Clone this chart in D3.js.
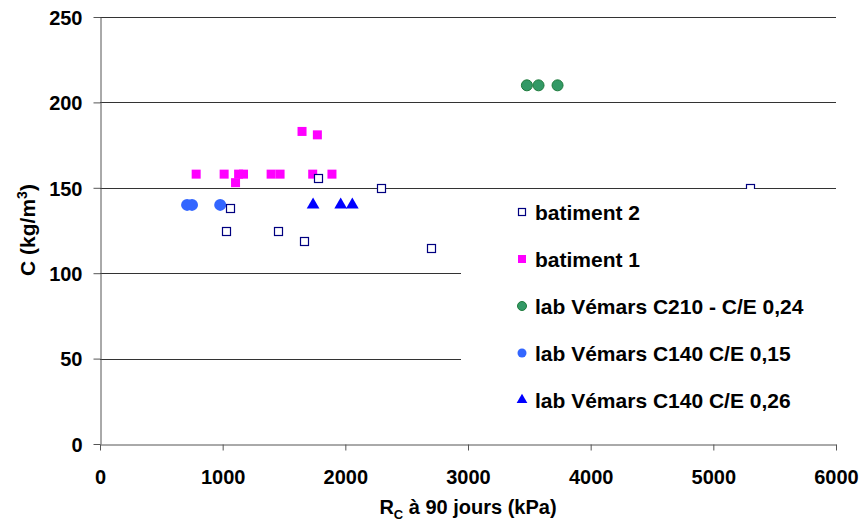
<!DOCTYPE html>
<html>
<head>
<meta charset="utf-8">
<script src="https://cdn.jsdelivr.net/npm/d3@7"></script>
<style>
  body { margin: 0; background: #fff; }
  svg text { font-family: 'Liberation Sans', Arial, sans-serif; font-weight: bold; }
</style>
</head>
<body>
<svg id="chart" width="860" height="522"></svg>
<script>
// values
const batiment2 = [[1775, 156], [2290, 150], [1056, 138], [1026, 125], [1455, 125], [1661, 119], [2700, 115], [5300, 150]]
const batiment1 = [[784, 158], [1012, 158], [1105, 153], [1130, 158], [1170, 158], [1395, 158], [1468, 158], [1647, 183], [1772, 181], [1734, 158], [1891, 158]]
const vemarsC210 = [[3480, 210], [3575, 210], [3730, 210]]
const vemarsC140a = [[710, 140], [750, 140], [980, 140]]
const vemarsC140b = [[1737, 140], [1962, 140], [2057, 140]]

const xTicks = [0, 1000, 2000, 3000, 4000, 5000, 6000]
const yTicks = [0, 50, 100, 150, 200, 250]
const legendLabels = ['batiment 2', 'batiment 1', 'lab Vémars C210 - C/E 0,24', 'lab Vémars C140 C/E 0,15', 'lab Vémars C140 C/E 0,26']

const svg = d3.select('#chart')
const x = d3.scaleLinear().domain([0, 6000]).range([100, 836])
const y = d3.scaleLinear().domain([0, 250]).range([444, 17])

// gridlines
svg.append('g').selectAll('line')
  .data(yTicks.filter(d => d > 0))
  .join('line')
  .attr('x1', 100).attr('x2', 836)
  .attr('y1', d => Math.round(y(d)) + 0.5).attr('y2', d => Math.round(y(d)) + 0.5)
  .attr('stroke', '#333').attr('stroke-width', 1)

// axes
const xAxis = svg.append('g')
  .attr('transform', 'translate(0,444.5)')
  .call(d3.axisBottom(x).tickValues(xTicks).tickFormat(d3.format('d')).tickSize(6).tickPadding(19).tickSizeOuter(0))
const yAxis = svg.append('g')
  .attr('transform', 'translate(100.5,0)')
  .call(d3.axisLeft(y).tickValues(yTicks).tickSize(7).tickPadding(11).tickSizeOuter(0))
for (const g of [xAxis, yAxis]) {
  g.select('.domain').attr('stroke', '#555')
  g.selectAll('.tick line').attr('stroke', '#555')
  g.selectAll('.tick text').attr('fill', '#000').style('font-size', '20px').style('font-family', null)
}
yAxis.selectAll('.tick text').attr('dy', '0.36em')
xAxis.selectAll('.tick text').attr('dy', '0.71em')

// axis titles
const xt = svg.append('text')
  .attr('x', 468).attr('y', 514)
  .attr('text-anchor', 'middle')
  .style('font-size', '20px')
xt.append('tspan').text('R')
xt.append('tspan').attr('dy', 5).style('font-size', '13px').text('C')
xt.append('tspan').attr('dy', -5).text(' à 90 jours (kPa)')

const yt = svg.append('text')
  .attr('transform', 'translate(35,230) rotate(-90)')
  .attr('text-anchor', 'middle')
  .style('font-size', '21px')
yt.append('tspan').text('C (kg/m')
yt.append('tspan').attr('dy', -8).style('font-size', '14px').text('3')
yt.append('tspan').attr('dy', 8).text(')')

// series
const tri = d3.symbol().type(d3.symbolTriangle).size(70)

svg.append('g').selectAll('rect')
  .data(batiment1)
  .join('rect')
  .attr('x', d => x(d[0]) - 4.5).attr('y', d => y(d[1]) - 4.5)
  .attr('width', 9).attr('height', 9)
  .attr('fill', '#ff00ff')

svg.append('g').selectAll('circle')
  .data(vemarsC210)
  .join('circle')
  .attr('cx', d => x(d[0])).attr('cy', d => y(d[1]))
  .attr('r', 5.5)
  .attr('fill', '#339966').attr('stroke', '#1e7b3c').attr('stroke-width', 1)

svg.append('g').selectAll('circle')
  .data(vemarsC140a)
  .join('circle')
  .attr('cx', d => x(d[0])).attr('cy', d => y(d[1]))
  .attr('r', 6)
  .attr('fill', '#3366ff')

svg.append('g').selectAll('path')
  .data(vemarsC140b)
  .join('path')
  .attr('d', tri)
  .attr('transform', d => `translate(${x(d[0])},${y(d[1])})`)
  .attr('fill', '#0000ff')

svg.append('g').selectAll('rect')
  .data(batiment2)
  .join('rect')
  .attr('x', d => Math.round(x(d[0])) - 3.5).attr('y', d => Math.round(y(d[1])) - 3.5)
  .attr('width', 8).attr('height', 8)
  .attr('fill', '#fff').attr('stroke', '#000080').attr('stroke-width', 1.2)

// legend
const lg = svg.append('g')
lg.append('rect')
  .attr('x', 461).attr('y', 189).attr('width', 376).attr('height', 240)
  .attr('fill', '#fff')

const ly = d3.scalePoint().domain(legendLabels).range([212, 400])
const items = lg.selectAll('g.item')
  .data(legendLabels)
  .join('g')
  .attr('class', 'item')
  .attr('transform', d => `translate(522,${ly(d)})`)

items.append('text')
  .attr('x', 13).attr('dy', '0.36em')
  .style('font-size', '21px')
  .text(d => d)

items.each(function (d, i) {
  const g = d3.select(this)
  if (i === 0) g.append('rect').attr('x', -3.5).attr('y', -3.5).attr('width', 7).attr('height', 7).attr('fill', '#fff').attr('stroke', '#000080').attr('stroke-width', 1.2)
  if (i === 1) g.append('rect').attr('x', -4).attr('y', -4).attr('width', 8).attr('height', 8).attr('fill', '#ff00ff')
  if (i === 2) g.append('circle').attr('r', 4.5).attr('fill', '#339966').attr('stroke', '#1e7b3c')
  if (i === 3) g.append('circle').attr('r', 4.5).attr('fill', '#3366ff')
  if (i === 4) g.append('path').attr('d', d3.symbol().type(d3.symbolTriangle).size(50)).attr('fill', '#0000ff')
})
</script>
</body>
</html>
